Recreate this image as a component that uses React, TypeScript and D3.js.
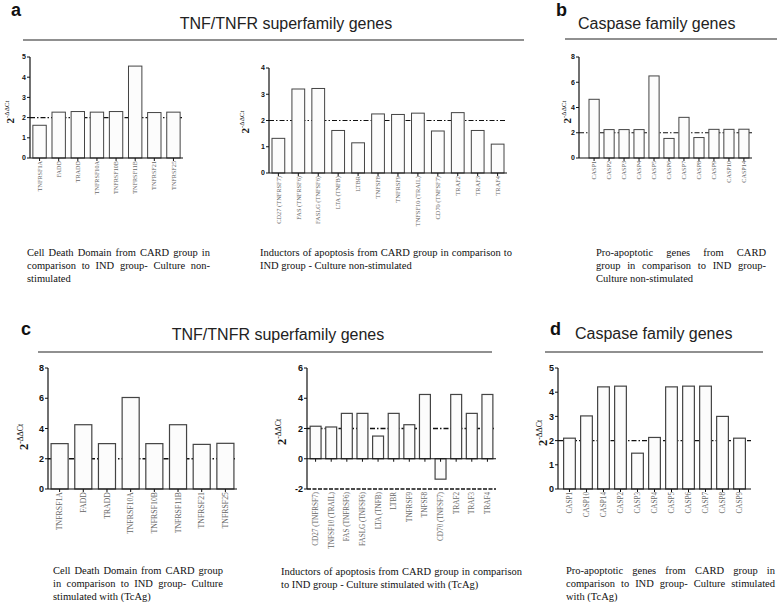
import React from "react";
import * as d3 from "d3";

// ---------- data ----------
const aCddCats = ["TNFRSF1A", "FADD", "TRADD", "TNFRSF10A", "TNFRSF10B", "TNFRSF11B", "TNFRSF21", "TNFRSF25"];
const aCddVals = [1.62, 2.27, 2.3, 2.27, 2.3, 4.55, 2.25, 2.27];

const aIndCats = ["CD27 (TNFRSF7)", "FAS (TNFRSF6)", "FASLG (TNFSF6)", "LTA (TNFB)", "LTBR", "TNFSF8", "TNFRSF9", "TNFSF10 (TRAIL)", "CD70 (TNFSF7)", "TRAF2", "TRAF3", "TRAF4"];
const aIndVals = [1.32, 3.2, 3.22, 1.62, 1.15, 2.25, 2.23, 2.28, 1.6, 2.3, 1.62, 1.1];

const bCats = ["CASP1", "CASP2", "CASP3", "CASP4", "CASP5", "CASP6", "CASP7", "CASP8", "CASP9", "CASP10", "CASP14"];
const bVals = [4.65, 2.25, 2.25, 2.25, 6.5, 1.55, 3.22, 1.62, 2.27, 2.27, 2.28];

const cCddCats = ["TNFRSF1A", "FADD", "TRADD", "TNFRSF10A", "TNFRSF10B", "TNFRSF11B", "TNFRSF21", "TNFRSF25"];
const cCddVals = [3.0, 4.25, 3.0, 6.05, 3.0, 4.25, 2.95, 3.02];

const cIndCats = ["CD27 (TNFRSF7)", "TNFSF10 (TRAIL)", "FAS (TNFRSF6)", "FASLG (TNFSF6)", "LTA (TNFB)", "LTBR", "TNFRSF9", "TNFSF8", "CD70 (TNFSF7)", "TRAF2", "TRAF3", "TRAF4"];
const cIndVals = [2.15, 2.1, 3.0, 3.0, 1.5, 3.0, 2.25, 4.25, -1.35, 4.25, 3.0, 4.25];

const dCats = ["CASP1", "CASP10", "CASP14", "CASP2", "CASP3", "CASP4", "CASP5", "CASP6", "CASP7", "CASP8", "CASP9"];
const dVals = [2.1, 3.02, 4.22, 4.25, 1.48, 2.13, 4.22, 4.25, 4.25, 3.0, 2.1];

const titleTnf = "TNF/TNFR superfamily genes";
const titleCasp = "Caspase family genes";

const capACdd = ["Cell Death Domain from CARD group in", "comparison to IND group- Culture non-", "stimulated"];
const capAInd = ["Inductors of apoptosis from CARD group in comparison to", "IND group - Culture non-stimulated"];
const capB = ["Pro-apoptotic genes from CARD", "group in comparison to IND group-", "Culture non-stimulated"];
const capCCdd = ["Cell Death Domain from CARD group", "in comparison to IND group- Culture", "stimulated with (TcAg)"];
const capCInd = ["Inductors of apoptosis from CARD group in comparison", "to IND group - Culture stimulated with (TcAg)"];
const capD = ["Pro-apoptotic genes from CARD group in", "comparison to IND group- Culture stimulated", "with (TcAg)"];

// ---------- helpers ----------
const SERIF = "'Liberation Serif','Times New Roman',serif";
const SANS = "'Liberation Sans',Arial,Helvetica,sans-serif";

let _ctx: any = null;
function textWidth(s: string, size: number) {
  if (!_ctx) _ctx = document.createElement("canvas").getContext("2d");
  _ctx.font = `${size}px ${SERIF}`;
  return _ctx.measureText(s).width;
}

function Justified({ x, y, width, lines, size, lh }: any) {
  return (
    <g fontFamily={SERIF} fontSize={size} fill="#111">
      {lines.map((line: string, i: number) => {
        const yy = y + i * lh;
        const words = line.split(" ");
        const last = i === lines.length - 1;
        if (last || words.length < 2) {
          return (
            <text key={i} x={x} y={yy}>
              {line}
            </text>
          );
        }
        const ws = words.map((w) => textWidth(w, size));
        const total = d3.sum(ws);
        let gap = (width - total) / (words.length - 1);
        const sp = textWidth(" ", size);
        if (gap < sp * 0.6) gap = sp;
        let cx = x;
        return (
          <g key={i}>
            {words.map((w, j) => {
              const el = (
                <text key={j} x={cx} y={yy}>
                  {w}
                </text>
              );
              cx += ws[j] + gap;
              return el;
            })}
          </g>
        );
      })}
    </g>
  );
}

function BarPanel(p: any) {
  const x = d3.scaleBand<string>().domain(p.cats).range(p.range).paddingInner(p.pi).paddingOuter(p.po);
  const y = d3.scaleLinear().domain(p.domain).range([p.yBot, p.yTop]);
  const ticks = d3.range(p.domain[0], p.domain[1] + 0.001, p.step);
  const bw = x.bandwidth();
  const y0 = y(0);
  const yMin = y(p.domain[0]);
  return (
    <g>
      {p.refLines.map((v: number, i: number) => (
        <line key={"r" + i} x1={p.axisX} x2={p.axisEnd} y1={y(v)} y2={y(v)} stroke="#111" strokeWidth={p.refW || 1.1} strokeDasharray="5,2,1.5,2" />
      ))}
      {p.vals.map((v: number, i: number) => {
        const c = p.cats[i];
        const yt = y(Math.max(0, v));
        const yb = y(Math.min(0, v));
        return <rect key={"b" + i} x={x(c)} y={yt} width={bw} height={yb - yt} fill="#fcfcfc" stroke="#444" strokeWidth={p.barW || 1} />;
      })}
      {p.bottomDash && (
        <line x1={p.axisX} x2={p.axisEnd} y1={yMin} y2={yMin} stroke="#111" strokeWidth={1.6} strokeDasharray="4,1.5" />
      )}
      <line x1={p.axisX} x2={p.axisEnd} y1={y0} y2={y0} stroke="#111" strokeWidth={1.2} />
      {p.cats.map((c: string, i: number) => (
        <line key={"xt" + i} x1={(x(c) as number) + bw / 2} x2={(x(c) as number) + bw / 2} y1={y0} y2={y0 + 3} stroke="#111" strokeWidth={1} />
      ))}
      <line x1={p.axisX} x2={p.axisX} y1={y(p.domain[1])} y2={yMin} stroke="#111" strokeWidth={1.2} />
      {ticks.map((t: number, i: number) => (
        <g key={"yt" + i}>
          <line x1={p.axisX - 3} x2={p.axisX} y1={y(t)} y2={y(t)} stroke="#111" strokeWidth={1} />
          <text x={p.axisX - 4} y={y(t)} dy="0.35em" textAnchor="end" fontSize={p.tickSize} fontWeight="bold" fontFamily={SANS} fill="#111">
            {t}
          </text>
        </g>
      ))}
      {p.cats.map((c: string, i: number) => (
        <text
          key={"cl" + i}
          transform={`translate(${(x(c) as number) + bw / 2},${yMin + 3}) rotate(-90)`}
          textAnchor="end"
          dy="0.35em"
          fontSize={p.labelSize}
          fill="#666"
          fontFamily={SERIF}
        >
          {c}
        </text>
      ))}
      <text transform={`translate(${p.ylab[0]},${p.ylab[1]}) rotate(-90)`} textAnchor="middle" fontFamily={SERIF} fill="#111">
        <tspan fontWeight="bold" fontSize={p.ylabSize}>2</tspan>
        <tspan fontSize={p.ylabSize * 0.62} dy={-p.ylabSize * 0.42}>-ΔΔCt</tspan>
      </text>
    </g>
  );
}

function Header({ letter, lx, ly, title, tx, ty, anchor, l1, l2, ly2 }: any) {
  return (
    <g>
      <text x={lx} y={ly} fontFamily={SANS} fontWeight="bold" fontSize={18} fill="#111">
        {letter}
      </text>
      <text x={tx} y={ty} textAnchor={anchor} fontFamily={SANS} fontSize={16} fill="#222">
        {title}
      </text>
      <line x1={l1} x2={l2} y1={ly2} y2={ly2} stroke="#222" strokeWidth={1.2} />
    </g>
  );
}

export default function App() {
  return (
    <svg width={777} height={602} style={{ position: "absolute", left: 0, top: 0, background: "#fff" }}>
      <rect width={777} height={602} fill="#fff" />
      {/* panel a */}
      <Header letter="a" lx={11} ly={16} title={titleTnf} tx={286} ty={29} anchor="middle" l1={23} l2={524} ly2={40} />
      <BarPanel cats={aCddCats} vals={aCddVals} range={[30, 183]} pi={0.3} po={0.15} axisX={30} axisEnd={183}
        domain={[0, 5]} step={1} yTop={57} yBot={158} refLines={[2]} tickSize={7} labelSize={6.2} ylab={[14, 112]} ylabSize={11} />
      <BarPanel cats={aIndCats} vals={aIndVals} range={[270, 506]} pi={0.36} po={0.1} axisX={269} axisEnd={507}
        domain={[0, 4]} step={1} yTop={68} yBot={173} refLines={[2]} tickSize={7} labelSize={6.4} ylab={[249, 122]} ylabSize={11} />
      <Justified x={27} y={256} width={183} lines={capACdd} size={10.5} lh={13} />
      <Justified x={260} y={256} width={252} lines={capAInd} size={10.5} lh={13} />

      {/* panel b */}
      <Header letter="b" lx={556} ly={16} title={titleCasp} tx={578} ty={29} anchor="start" l1={565} l2={777} ly2={39} />
      <BarPanel cats={bCats} vals={bVals} range={[586, 752]} pi={0.32} po={0.2} axisX={579} axisEnd={752}
        domain={[0, 8]} step={2} yTop={57} yBot={158} refLines={[2]} tickSize={7} labelSize={6.2} ylab={[571, 112]} ylabSize={11} />
      <Justified x={596} y={256} width={170} lines={capB} size={10.5} lh={13} />

      {/* panel c */}
      <Header letter="c" lx={21} ly={335} title={titleTnf} tx={278} ty={340} anchor="middle" l1={38} l2={492} ly2={352} />
      <BarPanel cats={cCddCats} vals={cCddVals} range={[48, 237]} pi={0.28} po={0.13} axisX={48} axisEnd={237}
        domain={[0, 8]} step={2} yTop={368} yBot={489} refLines={[2]} refW={1.3} barW={1.2} tickSize={9} labelSize={7.8} ylab={[28, 437]} ylabSize={12.5} />
      <BarPanel cats={cIndCats} vals={cIndVals} range={[307, 496]} pi={0.3} po={0.2} axisX={307} axisEnd={496}
        domain={[-2, 6]} step={2} yTop={368} yBot={489} refLines={[2]} refW={1.3} barW={1.2} bottomDash={true} tickSize={9} labelSize={7.2} ylab={[286, 432]} ylabSize={12.5} />
      <Justified x={53} y={574} width={170} lines={capCCdd} size={10.5} lh={13} />
      <Justified x={281} y={575} width={241} lines={capCInd} size={10.5} lh={13} />

      {/* panel d */}
      <Header letter="d" lx={550} ly={335} title={titleCasp} tx={575} ty={339} anchor="start" l1={545} l2={763} ly2={352} />
      <BarPanel cats={dCats} vals={dVals} range={[558, 751]} pi={0.31} po={0.33} axisX={558} axisEnd={751}
        domain={[0, 5]} step={1} yTop={368} yBot={489} refLines={[2]} refW={1.3} barW={1.2} tickSize={9} labelSize={7.2} ylab={[547, 433]} ylabSize={12.5} />
      <Justified x={566} y={574} width={209} lines={capD} size={10.5} lh={13} />
    </svg>
  );
}
